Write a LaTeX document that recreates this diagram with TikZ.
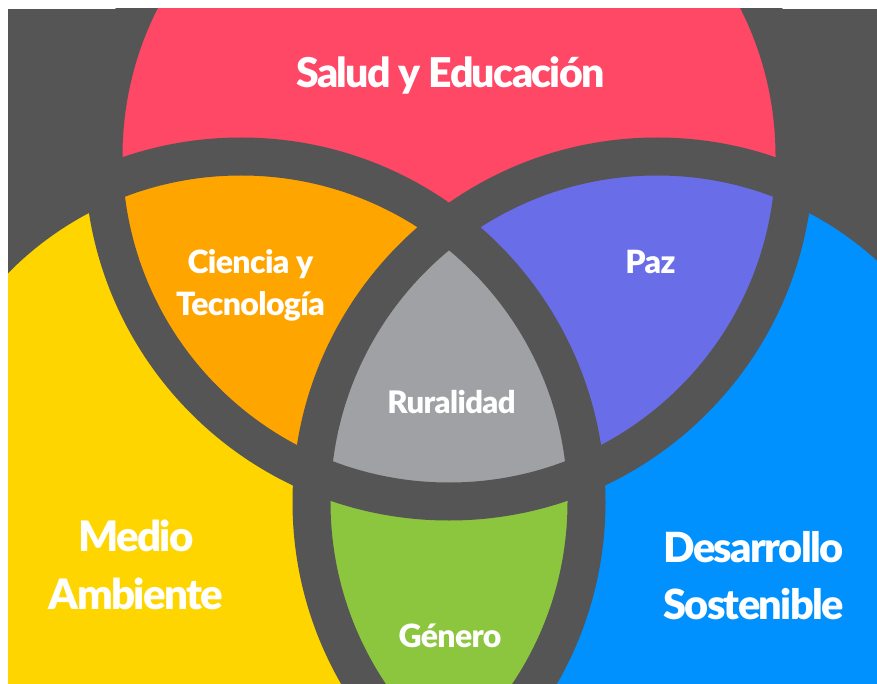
\documentclass[tikz,border=0pt]{standalone}
\usepackage{fontspec}
\setmainfont{Lato}
\newfontfamily\bigfont{Lato Black}[LetterSpace=-4]
\newfontfamily\smallfont{Lato Black}[LetterSpace=-2]
\definecolor{bggray}{HTML}{555555}
\definecolor{cred}{HTML}{FF4766}
\definecolor{corange}{HTML}{FFA500}
\definecolor{cyellow}{HTML}{FFD500}
\definecolor{cpurple}{HTML}{6A6DE8}
\definecolor{cblue}{HTML}{0091FF}
\definecolor{cgreen}{HTML}{8CC63F}
\definecolor{clight}{HTML}{A0A1A5}
\tikzset{
  lbl/.style={text=white, inner sep=0pt, align=center, anchor=base},
  biglbl/.style={lbl, font=\bigfont\fontsize{41.5}{57}\selectfont},
  smalllbl/.style={lbl, font=\smallfont\fontsize{32}{43}\selectfont},
  ring/.style={draw=bggray, line width=38pt},
}
\begin{document}
\begin{tikzpicture}[x=1pt,y=-1pt]
\useasboundingbox (0,0) rectangle (877,684);
\fill[white] (0,0) rectangle (877,684);
\fill[bggray] (8,9) rectangle (877,684);
\begin{scope}
\clip (8,9) rectangle (877,684);
\coordinate (cr) at (449,156);
\coordinate (cy) at (241,502);
\coordinate (cb) at (657,502);
\def\R{345.5pt}
\fill[cred] (cr) circle[radius=\R];
\fill[cyellow] (cy) circle[radius=\R];
\fill[cblue] (cb) circle[radius=\R];
\begin{scope}
  \clip (cr) circle[radius=\R];
  \fill[corange] (cy) circle[radius=\R];
  \fill[cpurple] (cb) circle[radius=\R];
\end{scope}
\begin{scope}
  \clip (cy) circle[radius=\R];
  \fill[cgreen] (cb) circle[radius=\R];
\end{scope}
\begin{scope}
  \clip (cr) circle[radius=\R];
  \clip (cy) circle[radius=\R];
  \fill[clight] (cb) circle[radius=\R];
\end{scope}
\draw[ring] (cr) circle[radius=\R];
\draw[ring] (cy) circle[radius=\R];
\draw[ring] (cb) circle[radius=\R];
\end{scope}
\node[biglbl, font=\bigfont\fontsize{41}{50}\selectfont] (salud) at (450.5,88) {Salud y Educación};
\node[smalllbl] (ciencia) at (250.5,316) {Ciencia y\\Tecnología};
\node[smalllbl] (paz) at (650.5,274) {Paz};
\node[smalllbl, font=\smallfont\fontsize{31}{40}\selectfont] (rural) at (451.5,413) {Ruralidad};
\node[biglbl, font=\bigfont\fontsize{42}{58}\selectfont] (medio) at (136,609) {Medio\\Ambiente};
\node[biglbl] (desa) at (753.5,619) {Desarrollo\\Sostenible};
\node[smalllbl] (genero) at (450,647) {Género};
\end{tikzpicture}
\end{document}
